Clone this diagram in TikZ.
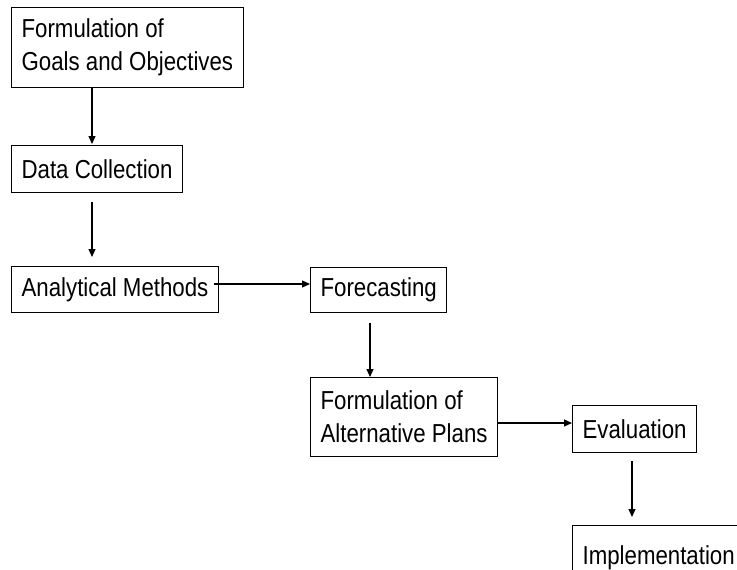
\documentclass[tikz,border=0pt]{standalone}
\usepackage{fontspec}
\setmainfont{Liberation Sans}[FakeStretch=0.856]
\usetikzlibrary{arrows.meta}

\tikzset{
    stage/.style={draw, line width=1.2pt, anchor=north west, align=left,
        inner xsep=10pt, inner ysep=0pt, font=\fontsize{26}{33}\selectfont},
    flow/.style={-{Triangle[length=8pt, width=7pt]}, line width=1.1pt}
}

\begin{document}
\begin{tikzpicture}[x=1pt, y=-1pt]
    \useasboundingbox (0,0) rectangle (737,570);
    \clip (0,0) rectangle (737,570);
    % Guides
    \coordinate (colL) at (92,0);
    \coordinate (colM) at (370,0);
    \coordinate (colR) at (632,0);
    \coordinate (rowA) at (0,284);
    \coordinate (rowB) at (0,423);
    % Stages
    \node[stage, minimum height=80pt] (goals) at (11,7) {Formulation of\\Goals and Objectives};
    \node[stage, minimum height=47pt] (data) at (11,145) {Data Collection};
    \node[stage, minimum height=46pt] (analysis) at (11,266) {Analytical Methods};
    \node[stage, minimum height=45pt] (forecast) at (310,267) {Forecasting};
    \node[stage, minimum height=79pt] (plans) at (310,377) {Formulation of\\Alternative Plans};
    \node[stage, minimum height=47pt] (eval) at (572,405) {Evaluation};
    \node[stage, minimum height=64pt] (impl) at (572,525) {Implementation};
    % Flow
    \draw[flow, shorten >=1pt] (goals.south -| colL) -- (data.north -| colL);
    \draw[flow, shorten <=9pt, shorten >=9pt] (data.south -| colL) -- (analysis.north -| colL);
    \draw[flow, shorten <=-5pt] (analysis.east |- rowA) -- (forecast.west |- rowA);
    \draw[flow, shorten <=10pt] (forecast.south -| colM) -- (plans.north -| colM);
    \draw[flow] (plans.east |- rowB) -- (eval.west |- rowB);
    \draw[flow, shorten <=8pt, shorten >=8pt] (eval.south -| colR) -- (impl.north -| colR);
\end{tikzpicture}
\end{document}
